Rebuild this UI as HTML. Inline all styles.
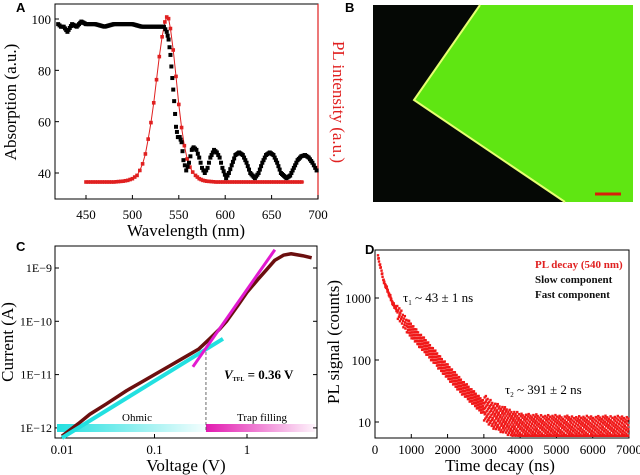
<!DOCTYPE html>
<html><head><meta charset="utf-8"><style>
html,body{margin:0;padding:0;background:#fff;}
svg{display:block;font-family:"Liberation Serif",serif;}
</style></head><body>
<svg id="fig" width="640" height="475" viewBox="0 0 640 475">
<defs>
<linearGradient id="gc" x1="0" x2="1"><stop offset="0" stop-color="#22e0e0"/><stop offset="1" stop-color="#22e0e0" stop-opacity="0.05"/></linearGradient>
<linearGradient id="gm" x1="0" x2="1"><stop offset="0" stop-color="#e21ab0"/><stop offset="1" stop-color="#e21ab0" stop-opacity="0.05"/></linearGradient>
</defs>
<text x="16" y="12" font-family="Liberation Sans" font-weight="bold" font-size="13">A</text>
<text x="345" y="12" font-family="Liberation Sans" font-weight="bold" font-size="13">B</text>
<text x="16" y="251" font-family="Liberation Sans" font-weight="bold" font-size="13">C</text>
<text x="365" y="254" font-family="Liberation Sans" font-weight="bold" font-size="13">D</text>

<g>
<rect x="373" y="5" width="260" height="197" fill="#050805"/>
<polygon points="480,5 633,5 633,202 565,202 414,100" fill="#5fe612"/>
<polyline points="480,5 414,100 565,202" fill="none" stroke="#e6ff70" stroke-width="2"/>
<line x1="595" y1="194" x2="621" y2="194" stroke="#d8200a" stroke-width="3"/>
</g>

<g id="ga"></g><g id="gc2"></g><g id="gd"></g>
</svg>
<script>
const NS="http://www.w3.org/2000/svg";
function mk(p,tag,at,txt){const e=document.createElementNS(NS,tag);for(const k in at)e.setAttribute(k,at[k]);if(txt!==undefined)e.textContent=txt;p.appendChild(e);return e;}

// ===== Panel A data =====
const absWl=[420,423,426,430,435,440,445,450,460,470,480,490,500,510,520,530,534,537,539,541,543,545,547,549,551,553,555,558,561,564,566,569,572,575,578,581,584,588,591,594,597,601,604,607,611,615,619,623,627,632,636,640,644,648,652,656,660,666,670,674,678,682,686,690,694,697,700];
const absVal=[98,97,97,95,98,97,99,98,98,97,98,98,98,97,97,97,97,95,92,86,77,68,58,54,54,52,45,41,44,49,50,49,46,42,40,42,46,49,48,46,42,38,40,43,47,48,47,44,40,38,40,44,47,48,47,44,40,38,39,42,45,46.5,47,46,44,42,40];
const plWl=[450,460,470,480,490,495,500,505,508,511,514,517,520,523,526,529,532,535,537,539,541,544,547,550,553,556,559,562,565,568,572,576,580,590,600,620,640,660,685];
const plVal=[0,0,0,0,0.005,0.01,0.02,0.04,0.07,0.11,0.17,0.26,0.36,0.48,0.62,0.76,0.88,0.97,1.0,0.99,0.93,0.8,0.64,0.47,0.33,0.22,0.14,0.09,0.06,0.04,0.02,0.01,0.005,0,0,0,0,0,0];
const aXTicks=[450,500,550,600,650,700];
const aYTicks=[40,60,80,100];

const ax=w=>318-(700-w)*0.928;
const ay=v=>19+(100-v)*(154/60);
const apl=v=>182-v*165;
(function(){
 const g=document.getElementById('ga');
 let e=mk(g,'rect',{x:55,y:4,width:263,height:195,fill:'none',stroke:'#000','stroke-width':1});
 
 mk(g,'line',{x1:318,y1:4,x2:318,y2:199,stroke:'#e02020','stroke-width':1.2});
 aXTicks.forEach(t=>{mk(g,'line',{x1:ax(t),y1:199,x2:ax(t),y2:195,stroke:'#000'});
  const l=mk(g,'text',{x:ax(t),y:219,'text-anchor':'middle','font-size':13},t);
  });
 aYTicks.forEach(t=>{mk(g,'line',{x1:55,y1:ay(t),x2:59,y2:ay(t),stroke:'#000'});
  const l=mk(g,'text',{x:51,y:ay(t)+5,'text-anchor':'end','font-size':13},t);
  });
 let t=mk(g,'text',{x:186,y:236,'text-anchor':'middle','font-size':17},'Wavelength (nm)');
 
 t=mk(g,'text',{x:0,y:0,'text-anchor':'middle','font-size':17,transform:'translate(16,102) rotate(-90)'},'Absorption (a.u.)');
 
 t=mk(g,'text',{x:0,y:0,'text-anchor':'middle','font-size':17,fill:'#e02020',transform:'translate(333,102) rotate(90)'},'PL intensity (a.u.)');
 
 let p=mk(g,'polyline',{points:plWl.map((w,i)=>ax(w)+','+apl(plVal[i])).join(' '),fill:'none',stroke:'#e02020','stroke-width':1});
 
 for(let i=0;i<plWl.length-1;i++){const n=Math.max(1,Math.round((plWl[i+1]-plWl[i])/2.4));
  for(let k=0;k<n;k++){const f=k/n;const w=plWl[i]+(plWl[i+1]-plWl[i])*f,v=plVal[i]+(plVal[i+1]-plVal[i])*f;
   const r=mk(g,'rect',{x:ax(w)-1.8,y:apl(v)-1.8,width:3.6,height:3.6,fill:'#e02020'});
   }}
 for(let i=0;i<absWl.length-1;i++){const n=Math.max(1,Math.round((absWl[i+1]-absWl[i])/1.3));
  for(let k=0;k<n;k++){const f=k/n;const w=absWl[i]+(absWl[i+1]-absWl[i])*f,v=absVal[i]+(absVal[i+1]-absVal[i])*f;
   const r=mk(g,'rect',{x:ax(w)-2,y:ay(v)-2,width:4,height:4,fill:'#000'});
   }}
})();

// ===== Panel C data =====
const ivV=[0.01,0.015,0.02,0.03,0.05,0.07,0.1,0.15,0.2,0.3,0.4,0.5,0.6,0.8,1,1.3,1.6,2,2.5,3,4,5];
const ivI=[7e-13,1.2e-12,1.8e-12,2.8e-12,5e-12,7e-12,1e-11,1.5e-11,2e-11,3e-11,4.8e-11,7e-11,1e-10,2e-10,3.5e-10,6e-10,9e-10,1.4e-9,1.75e-9,1.85e-9,1.7e-9,1.55e-9];
const ohmicFit=[[0.01,6.5e-13],[0.55,4.7e-11]];
const trapFit=[[0.26,1.4e-11],[2.0,2.2e-9]];
const vtfl=0.36;
const cXTicks=[0.01,0.1,1];
const cXLabels=['0.01','0.1','1'];
const cYTicks=[1e-9,1e-10,1e-11,1e-12];
const cYLabels=['1E\u22129','1E\u221210','1E\u221211','1E\u221212'];
const cx=v=>62+92.5*Math.log10(v/0.01);
const cy=i=>268-53.3*(Math.log10(i)+9);
(function(){
 const g=document.getElementById('gc2');
 let e=mk(g,'rect',{x:55,y:246,width:262,height:192,fill:'none',stroke:'#000','stroke-width':1});
 
 cXTicks.forEach((t,i)=>{mk(g,'line',{x1:cx(t),y1:438,x2:cx(t),y2:434,stroke:'#000'});
  const l=mk(g,'text',{x:cx(t),y:454,'text-anchor':'middle','font-size':13},cXLabels[i]);
  });
 cYTicks.forEach((t,i)=>{mk(g,'line',{x1:55,y1:cy(t),x2:59,y2:cy(t),stroke:'#000'});mk(g,'line',{x1:317,y1:cy(t),x2:313,y2:cy(t),stroke:'#000'});
  const l=mk(g,'text',{x:52,y:cy(t)+4,'text-anchor':'end','font-size':12},cYLabels[i]);
  });
 let t=mk(g,'text',{x:186,y:471,'text-anchor':'middle','font-size':17},'Voltage (V)');
 
 t=mk(g,'text',{x:0,y:0,'text-anchor':'middle','font-size':17,transform:'translate(13,342) rotate(-90)'},'Current (A)');
 
 let b=mk(g,'rect',{x:57,y:424,width:cx(vtfl)-57,height:8,fill:'url(#gc)'});
 
 b=mk(g,'rect',{x:cx(vtfl),y:424,width:315-cx(vtfl),height:8,fill:'url(#gm)'});
 
 t=mk(g,'text',{x:137,y:421,'text-anchor':'middle','font-size':11},'Ohmic');
 
 t=mk(g,'text',{x:262,y:421,'text-anchor':'middle','font-size':11},'Trap filling');
 
 let d=mk(g,'line',{x1:cx(vtfl),y1:cy(3.3e-11),x2:cx(vtfl),y2:432,stroke:'#444','stroke-width':0.8,'stroke-dasharray':'3,2'});
 
 t=mk(g,'text',{x:224,y:379,'font-size':13,'font-weight':'bold'});
 
 t.innerHTML='<tspan font-style="italic">V</tspan><tspan font-size="6" dy="2">TFL</tspan><tspan dy="-2"> = 0.36 V</tspan>';
 let p=mk(g,'polyline',{points:ivV.map((v,i)=>cx(v)+','+cy(ivI[i])).join(' '),fill:'none',stroke:'#6b0f0f','stroke-width':3.5,'stroke-linejoin':'round'});
 
 p=mk(g,'line',{x1:cx(ohmicFit[0][0]),y1:cy(ohmicFit[0][1]),x2:cx(ohmicFit[1][0]),y2:cy(ohmicFit[1][1]),stroke:'#22e0e0','stroke-width':4});
 
 p=mk(g,'line',{x1:cx(trapFit[0][0]),y1:cy(trapFit[0][1]),x2:cx(trapFit[1][0]),y2:cy(trapFit[1][1]),stroke:'#e21ad0','stroke-width':3});
 
})();

// ===== Panel D data =====
const decT=[80,250,500,750,1000,1250,1500,1750,2000,2250,2500,2750,3000,3250,3500,3750,4000,4500,5000,5500,6000,6500,7000];
const decC=[4800,1800,800,450,300,200,140,95,65,45,32,23,17,13,11,9.5,8.5,8,7.8,7.6,7.6,7.6,7.6];
const dXTicks=[0,1000,2000,3000,4000,5000,6000,7000];
const dYTicks=[10,100,1000];
const dx=t=>375+t*(254/7000);
const dy=c=>298-62*(Math.log10(c)-3);
(function(){
 const g=document.getElementById('gd');
 let e=mk(g,'rect',{x:375,y:250,width:254,height:188,fill:'none',stroke:'#000','stroke-width':1});
 
 dXTicks.forEach(t=>{mk(g,'line',{x1:dx(t),y1:438,x2:dx(t),y2:434,stroke:'#000'});
  const l=mk(g,'text',{x:dx(t),y:454,'text-anchor':'middle','font-size':13},t);
  });
 dYTicks.forEach(t=>{mk(g,'line',{x1:375,y1:dy(t),x2:379,y2:dy(t),stroke:'#000'});
  const l=mk(g,'text',{x:371,y:dy(t)+5,'text-anchor':'end','font-size':13},t);
  });
 let t=mk(g,'text',{x:500,y:471,'text-anchor':'middle','font-size':17},'Time decay (ns)');
 
 t=mk(g,'text',{x:0,y:0,'text-anchor':'middle','font-size':17,transform:'translate(339,342) rotate(-90)'},'PL signal (counts)');
 
 // scatter spread around the mean curve (deterministic low-discrepancy offsets)
 let j=0;
 const frac=x=>x-Math.floor(x);
 for(let i=0;i<decT.length-1;i++){const n=Math.round((decT[i+1]-decT[i])/12);
  for(let k=0;k<n;k++){const f=k/n;
   const lc=Math.log10(decC[i])+(Math.log10(decC[i+1])-Math.log10(decC[i]))*f;
   const tt0=decT[i]+(decT[i+1]-decT[i])*f;
   const amp=tt0<600?0.03:(tt0>3000?0.22:0.12);
   const reps=tt0>3000?2:(tt0>900?2:1);
   for(let q=0;q<reps;q++){j++;
    const off=(frac(j*0.6180339)-0.5)*2*amp;
    const tt=tt0+(frac(j*0.7548776)-0.5)*12;
    let c=Math.pow(10,lc+off);
    if(c<6)c=6;
    const r=mk(g,'rect',{x:dx(tt)-1.2,y:dy(c)-1.2,width:2.4,height:2.4,fill:'#f01818'});
    }
  }}
 const lg=[['PL decay (540 nm)','#e02020',268],['Slow component','#111',283],['Fast component','#111',298]];
 lg.forEach(a=>{const l=mk(g,'text',{x:535,y:a[2],'font-size':11,'font-weight':'bold',fill:a[1]},a[0]);
  });
 t=mk(g,'text',{x:403,y:302,'font-size':13});
 
 t.innerHTML='τ<tspan font-size="7" dy="3">1</tspan><tspan dy="-3"> ~ 43 ± 1 ns</tspan>';
 t=mk(g,'text',{x:505,y:394,'font-size':13});
 
 t.innerHTML='τ<tspan font-size="7" dy="3">2</tspan><tspan dy="-3"> ~ 391 ± 2 ns</tspan>';
})();
</script>
</body></html>
